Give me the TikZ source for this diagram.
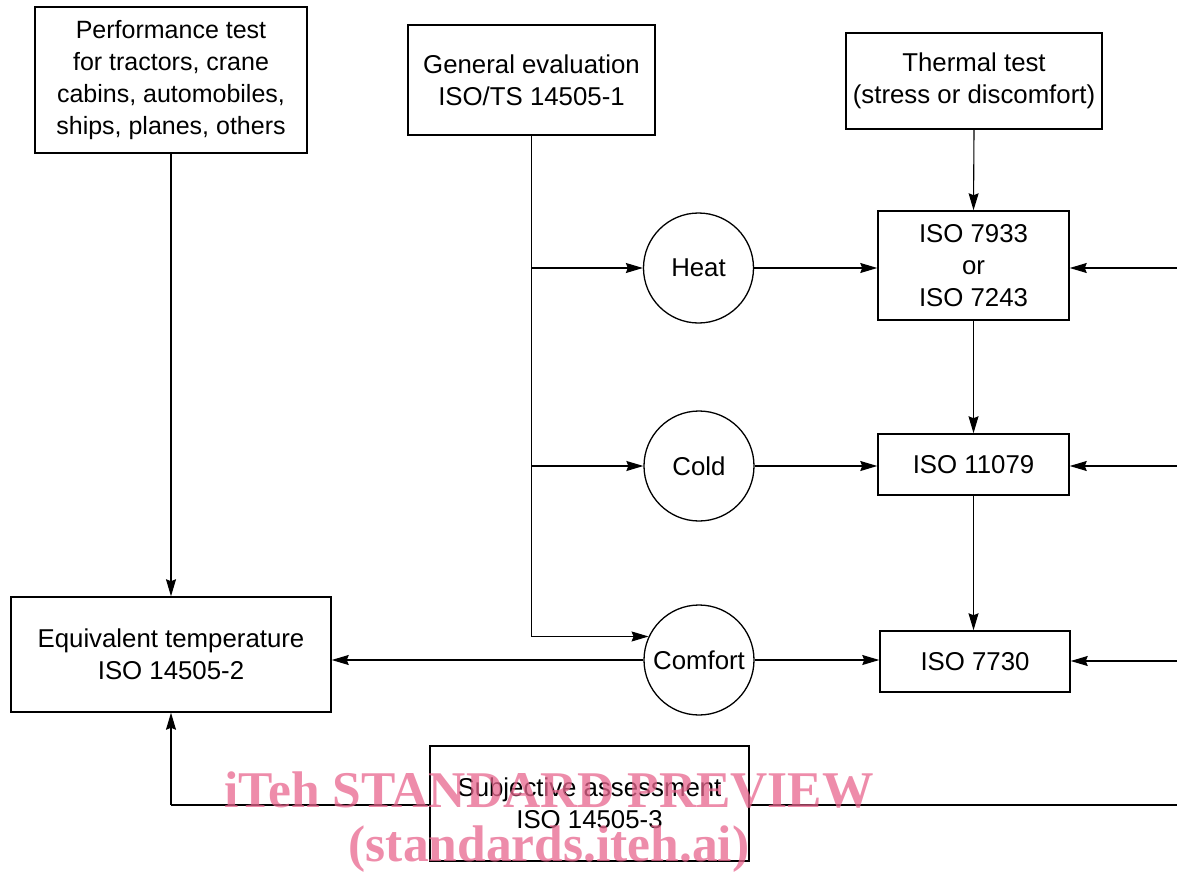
\documentclass[tikz,border=0pt]{standalone}
\usepackage{fontspec}
\setmainfont{Liberation Sans}
\newfontfamily\wmfont{Liberation Serif}
\usetikzlibrary{arrows.meta,calc}
\definecolor{wmpink}{RGB}{232,102,142}
\begin{document}
\begin{tikzpicture}[x=1pt,y=-1pt,
  txt/.style={font=\fontsize{25.8}{31.7}\selectfont, align=center},
  box/.style={txt, draw, line width=1.5pt, fill=white, inner sep=0pt},
  circ/.style={txt, draw, circle, line width=1.3pt, minimum size=110pt, inner sep=0pt},
  link/.style={line width=1.1pt},
  arr/.style={link, -{Stealth[length=17pt,width=10pt,inset=2pt]}},
  wm/.style={text=wmpink, opacity=0.75, font=\wmfont\bfseries\fontsize{51.5}{58}\selectfont}
]
\useasboundingbox (0,0) rectangle (1177,872);
% boxes
\node[box, minimum width=272pt, minimum height=146pt, font=\fontsize{25}{31.7}\selectfont] (perf) at (171,80)
  {Performance test\\for tractors, crane\\cabins, automobiles,\\ships, planes, others};
\node[box, minimum width=247pt, minimum height=110pt] (gen) at (531.5,80)
  {General evaluation\\ISO/TS 14505-1};
\node[box, minimum width=256pt, minimum height=96pt] (therm) at (974,81)
  {Thermal test\\(stress or discomfort)};
\node[box, minimum width=191pt, minimum height=109pt] (i7933) at (973.5,265.5)
  {ISO 7933\\or\\ISO 7243};
\node[box, minimum width=191pt, minimum height=61pt] (i11079) at (973.5,464.5)
  {ISO 11079};
\node[box, minimum width=190pt, minimum height=61pt] (i7730) at (975,661.5)
  {ISO 7730};
\node[box, minimum width=320pt, minimum height=115pt] (equiv) at (171,654.5)
  {Equivalent temperature\\ISO 14505-2};
% circles
\node[circ] (heat) at (698.5,268) {Heat};
\node[circ] (cold) at (699,466) {Cold};
\node[circ] (comfort) at (699,660) {Comfort};
% free ends
\coordinate (r1) at (1177,268);
\coordinate (r2) at (1177,466);
\coordinate (r3) at (1177,661);
\coordinate (r4) at (1177,805);
\coordinate (c4) at (171,805);
% connectors
\draw[arr] (perf.south) -- (equiv.north);
\draw[arr] (gen.south) |- (comfort.155);
\coordinate (b1) at (gen.south |- heat.west);
\coordinate (b2) at (gen.south |- cold.west);
\draw[arr] (b1) -- (heat.west);
\draw[arr] (b2) -- (cold.west);
\draw[arr] (heat.east) -- (heat.east -| i7933.west);
\draw[arr] (cold.east) -- (cold.east -| i11079.west);
\draw[arr] (comfort.east) -- (comfort.east -| i7730.west);
\draw[arr] (comfort.west) -- (comfort.west -| equiv.east);
\draw[arr] (therm.south) -- (i7933.north);
\draw[arr] (i7933.south) -- (i11079.north);
\draw[arr] (i11079.south) -- (i11079.south |- i7730.north);
\draw[arr] (r1) -- (r1 -| i7933.east);
\draw[arr] (r2) -- (r2 -| i11079.east);
\draw[arr] (r3) -- (r3 -| i7730.east);
\draw[link] (r4) -- (c4);
\draw[arr] (c4) -- (equiv.south);
\node[box, minimum width=319pt, minimum height=115pt] (subj) at (589.5,803.5)
  {Subjective assessment\\ISO 14505-3};
% watermark
\node[wm] (wm1) at (549,790) {iTeh STANDARD PREVIEW};
\node[wm] (wm2) at (549,849) {(standards.iteh.ai)};
\end{tikzpicture}
\end{document}
